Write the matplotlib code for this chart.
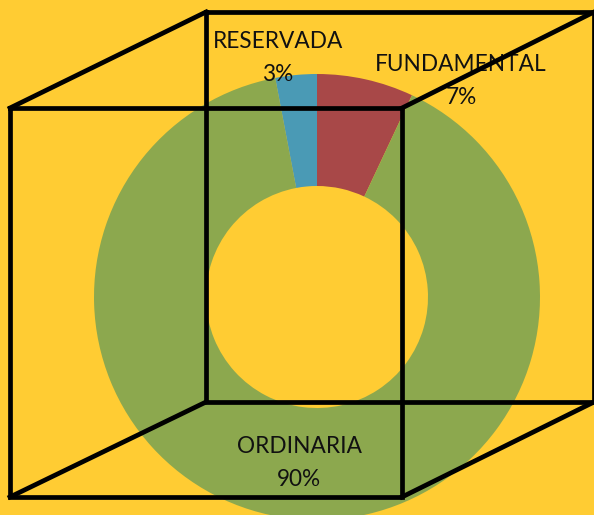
import matplotlib.pyplot as plt

# chart data
labels = ['FUNDAMENTAL', 'ORDINARIA', 'RESERVADA']
shares = [7, 90, 3]
colors = ['#A84848', '#8CA84E', '#4A9AB5']

W, H = 594, 515
BG = '#FFCC33'

fig = plt.figure(figsize=(W / 100, H / 100), dpi=100, facecolor=BG)
ax = fig.add_axes([0, 0, 1, 1])

def py(y):
    # pixel row (top-down) -> data y
    return H - y

# donut
cx, cy, r_out, r_in = 317, 297, 223, 111
ax.pie(shares, colors=colors, startangle=90, counterclock=False,
       center=(cx, py(cy)), radius=r_out, frame=True,
       wedgeprops=dict(width=r_out - r_in, linewidth=0))
ax.set_xlim(0, W)
ax.set_ylim(0, H)
ax.set_aspect('equal')
ax.axis('off')

# labels
label_pos = {'FUNDAMENTAL': (461, 81), 'ORDINARIA': (299, 463), 'RESERVADA': (278, 58)}
for lab, val in zip(labels, shares):
    x, y = label_pos[lab]
    ax.text(x, py(y), f'{lab}\n{val}%', ha='center', va='center',
            fontsize=16.3, family='Lato', color='#111111', linespacing=1.68)

# cube wireframe drawn on top
front = [(10, 108), (402, 108), (402, 497), (10, 497), (10, 108)]
back = [(206, 12), (594, 12), (594, 402), (206, 402), (206, 12)]
lw = 3.4
for sq in (front, back):
    ax.plot([p[0] for p in sq], [py(p[1]) for p in sq], color='black', lw=lw,
            solid_joinstyle='miter', solid_capstyle='projecting', zorder=5)
for (x0, y0), (x1, y1) in zip(front[:4], back[:4]):
    ax.plot([x0, x1], [py(y0), py(y1)], color='black', lw=lw, zorder=5)

fig.savefig('out.png', dpi=100, facecolor=BG)
